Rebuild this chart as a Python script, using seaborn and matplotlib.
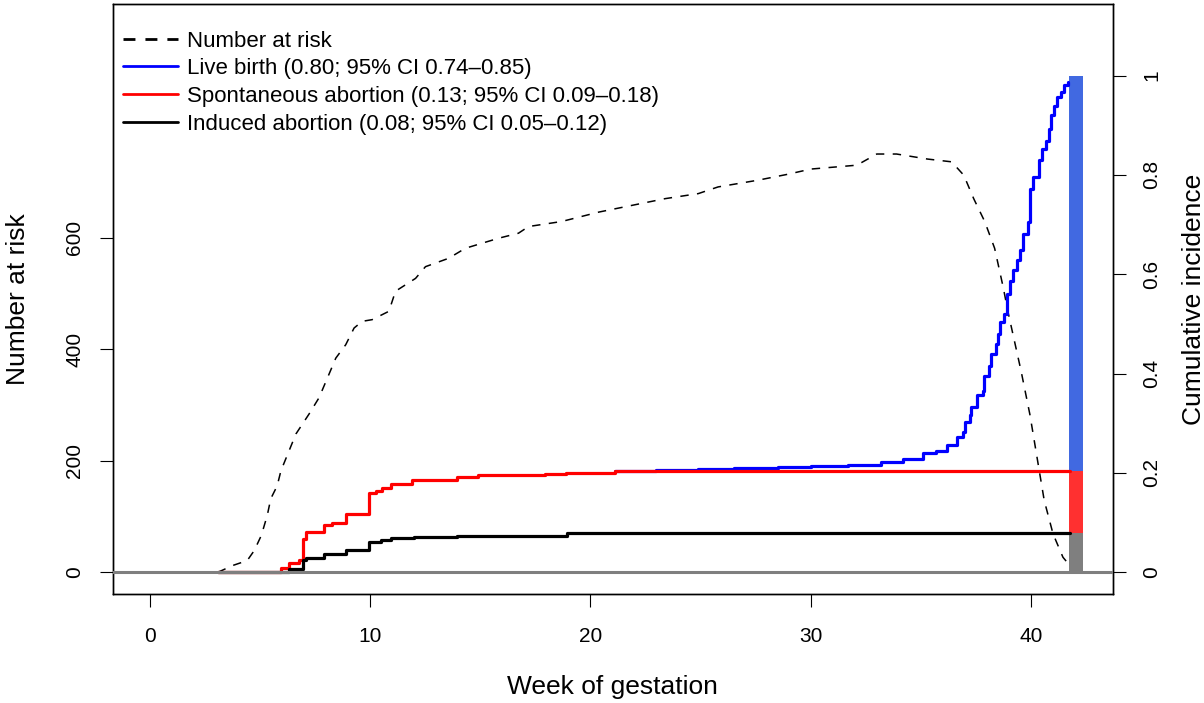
import numpy as np
import pandas as pd
import matplotlib
matplotlib.use("Agg")
import matplotlib.pyplot as plt
from matplotlib.lines import Line2D
import seaborn as sns

# Numero en riesgo (curva discontinua, eje izquierdo)
weeks_risk = [3.1, 3.76, 4.43, 4.75, 5.07, 5.34, 5.5, 5.79, 5.96, 6.64, 7.24, 7.69, 8.14, 8.45,
              8.9, 9.28, 9.65, 10.1, 10.86, 11.16, 12.07, 12.52, 13.57, 14.33, 15.84, 16.74, 17.2,
              18.7, 20.4, 21.9, 23.4, 24.9, 25.8, 27.6, 29.0, 30.0, 32.1, 33.0, 33.9, 35.3, 36.4,
              36.95, 37.4, 37.9, 38.35, 38.75, 38.95, 39.55, 39.95, 40.3, 40.6, 41.0, 41.45, 41.7]
n_risk = [0, 12, 21, 39, 66, 102, 132, 155, 182, 248, 284, 313, 355, 384,
          408, 438, 450, 453, 468, 504, 527, 548, 563, 581, 599, 608, 620,
          629, 646, 658, 670, 679, 691, 703, 714, 723, 730, 750, 750, 741, 736,
          712, 670, 629, 581, 509, 468, 361, 283, 200, 129, 69, 27, 15]

# Incidencia acumulada apilada (eje derecho)
weeks_induced = [3.1, 6.33, 6.94, 7.09, 7.92, 8.9, 9.95, 10.48, 10.94, 12.0, 13.95, 18.93, 41.75]
ci_induced = [0, 0.007, 0.024, 0.028, 0.036, 0.044, 0.062, 0.066, 0.069, 0.071, 0.073, 0.079, 0.079]

weeks_spont = [3.1, 5.96, 6.33, 6.79, 6.94, 7.09, 7.92, 8.3, 8.9, 9.95, 10.26, 10.56, 10.94,
               11.9, 13.95, 14.9, 17.95, 18.9, 21.1, 41.75]
ci_spont = [0, 0.009, 0.019, 0.024, 0.068, 0.081, 0.095, 0.099, 0.118, 0.16, 0.164, 0.17, 0.177,
            0.186, 0.192, 0.195, 0.197, 0.2, 0.203, 0.203]

weeks_live = [21.1, 23.0, 24.9, 26.5, 28.5, 30.0, 31.7, 33.2, 34.2, 35.1, 35.7, 36.2, 36.65, 36.9,
              37.0, 37.25, 37.3, 37.55, 37.8, 37.86, 38.1, 38.2, 38.4, 38.5, 38.6, 38.76, 38.9,
              39.05, 39.2, 39.35, 39.5, 39.65, 39.85, 39.95, 40.1, 40.35, 40.5, 40.67, 40.8, 40.9,
              41.05, 41.2, 41.35, 41.5, 41.7]
ci_live = [0.203, 0.205, 0.207, 0.209, 0.212, 0.214, 0.216, 0.223, 0.229, 0.24, 0.245, 0.256, 0.272,
           0.282, 0.302, 0.316, 0.333, 0.356, 0.366, 0.396, 0.416, 0.44, 0.46, 0.48, 0.504, 0.52,
           0.56, 0.587, 0.608, 0.628, 0.648, 0.681, 0.705, 0.772, 0.795, 0.829, 0.852, 0.869,
           0.893, 0.92, 0.938, 0.956, 0.966, 0.98, 0.986]

# Barra final apilada
bar_week = 42.05
bar_parts = ['Induced', 'Spontaneous', 'Live']
bar_heights = [0.079, 0.124, 0.797]
bar_colors = ['#7f7f7f', '#ff3030', '#4169e1']

legend_labels = ['Number at risk',
                 'Live birth (0.80; 95% CI 0.74\u20130.85)',
                 'Spontaneous abortion (0.13; 95% CI 0.09\u20130.18)',
                 'Induced abortion (0.08; 95% CI 0.05\u20130.12)']

sns.set_style('ticks')
plt.rcParams['font.family'] = ['Liberation Sans', 'DejaVu Sans']
plt.rcParams['text.color'] = 'black'
plt.rcParams['axes.labelcolor'] = 'black'
plt.rcParams['xtick.color'] = 'black'
plt.rcParams['ytick.color'] = 'black'

fig = plt.figure(figsize=(12.04, 7.03), dpi=100)
ax = fig.add_axes([0.0935, 0.155, 0.8307, 0.8393])
ax2 = ax.twinx()

risk_df = pd.DataFrame({'week': weeks_risk, 'n': n_risk})
sns.lineplot(data=risk_df, x='week', y='n', ax=ax, color='black', lw=1.1,
             dashes=False, estimator=None, linestyle=(0, (5.5, 5.5)))

live_df = pd.DataFrame({'week': weeks_live, 'ci': ci_live})
spont_df = pd.DataFrame({'week': weeks_spont, 'ci': ci_spont})
ind_df = pd.DataFrame({'week': weeks_induced, 'ci': ci_induced})
sns.lineplot(data=live_df, x='week', y='ci', ax=ax2, color='blue', lw=2.3,
             drawstyle='steps-post', estimator=None)
sns.lineplot(data=spont_df, x='week', y='ci', ax=ax2, color='red', lw=2.3,
             drawstyle='steps-post', estimator=None)
sns.lineplot(data=ind_df, x='week', y='ci', ax=ax2, color='black', lw=2.3,
             drawstyle='steps-post', estimator=None)

bottom = 0
for h, c in zip(bar_heights, bar_colors):
    ax2.bar(bar_week, h, bottom=bottom, width=0.62, color=c, linewidth=0)
    bottom += h

ax2.axhline(0, color='#7f7f7f', lw=2.2, zorder=5)

ax.set_xlim(-1.68, 43.71)
ax2.set_xlim(-1.68, 43.71)
ax.set_ylim(-39, 1019)
ax2.set_ylim(-0.0437, 1.144)

ax.set_xticks([0, 10, 20, 30, 40])
ax.set_yticks([0, 200, 400, 600])
ax2.set_yticks([0, 0.2, 0.4, 0.6, 0.8, 1.0])
ax2.set_yticklabels(['0', '0.2', '0.4', '0.6', '0.8', '1'])

for a in (ax, ax2):
    for s in a.spines.values():
        s.set_visible(True)
        s.set_linewidth(1.0)
        s.set_color('black')
ax.tick_params(axis='x', length=9.5, width=0.8, labelsize=15, pad=14)
ax.tick_params(axis='y', length=9.5, width=0.8, labelsize=15, pad=11)
ax2.tick_params(axis='y', length=9.5, width=0.8, labelsize=15, pad=12)
for t in ax.get_yticklabels():
    t.set_rotation(90)
    t.set_va('center')
for t in ax2.get_yticklabels():
    t.set_rotation(90)
    t.set_va('center')

ax.set_xlabel('Week of gestation', fontsize=19)
ax.set_ylabel('Number at risk', fontsize=19)
ax2.set_ylabel('Cumulative incidence', fontsize=19)
ax.xaxis.set_label_coords(0.5, -0.137)
ax.yaxis.set_label_coords(-0.0826, 0.5)
ax2.yaxis.set_label_coords(1.0693, 0.5)

handles = [Line2D([], [], color='black', lw=2, linestyle=(0, (4.3, 3.6))),
           Line2D([], [], color='blue', lw=2),
           Line2D([], [], color='red', lw=2),
           Line2D([], [], color='black', lw=2)]
ax2.legend(handles, legend_labels, loc='upper left', bbox_to_anchor=(0.0104, 0.955),
           frameon=False, fontsize=16, handlelength=2.48, handletextpad=0.4,
           labelspacing=0.3, borderpad=0, borderaxespad=0)

fig.savefig('out.png', dpi=100)
